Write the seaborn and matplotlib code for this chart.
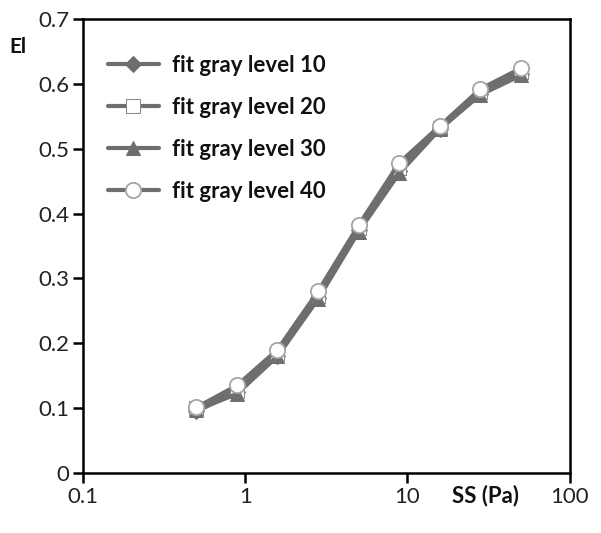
import numpy as np
import pandas as pd
import matplotlib
matplotlib.use('Agg')
import matplotlib.pyplot as plt
import seaborn as sns

# shear stress (Pa), log-spaced samples
ss = [0.5, 0.89, 1.58, 2.81, 5.0, 8.89, 15.8, 28.1, 50.0]

# elongation index for each gray level fit
ei_10 = [0.095, 0.125, 0.180, 0.270, 0.375, 0.465, 0.530, 0.585, 0.615]
ei_20 = [0.100, 0.127, 0.183, 0.273, 0.377, 0.470, 0.532, 0.588, 0.618]
ei_30 = [0.097, 0.122, 0.180, 0.268, 0.372, 0.462, 0.530, 0.583, 0.613]
ei_40 = [0.101, 0.135, 0.190, 0.280, 0.382, 0.478, 0.535, 0.592, 0.624]

labels = ['fit gray level 10', 'fit gray level 20', 'fit gray level 30', 'fit gray level 40']

sns.set_style('white')
plt.rcParams['font.family'] = ['Lato', 'DejaVu Sans']

fig = plt.figure(figsize=(6.01, 5.33), dpi=100)
ax = fig.add_axes([0.138, 0.1126, 0.810, 0.8518])

line_col = '#6e6e6e'
styles = [
    dict(marker='D', markersize=8, markerfacecolor=line_col, markeredgecolor=line_col),
    dict(marker='s', markersize=10, markerfacecolor='white', markeredgecolor='#8a8a8a'),
    dict(marker='^', markersize=10, markerfacecolor=line_col, markeredgecolor=line_col),
    dict(marker='o', markersize=11, markerfacecolor='white', markeredgecolor='#a5a5a5', markeredgewidth=1.3),
]

for ei, lab, st in zip([ei_10, ei_20, ei_30, ei_40], labels, styles):
    sns.lineplot(x=ss, y=ei, ax=ax, color=line_col, lw=3, label=lab, **st)

ax.set_xscale('log')
ax.set_xlim(0.1, 100)
ax.set_ylim(0, 0.7)
ax.set_xticks([0.1, 1, 10, 100])
ax.set_xticklabels(['0.1', '1', '10', '100'])
ax.set_yticks([0, 0.1, 0.2, 0.3, 0.4, 0.5, 0.6, 0.7])
ax.set_yticklabels(['0', '0.1', '0.2', '0.3', '0.4', '0.5', '0.6', '0.7'])
ax.minorticks_off()
ax.tick_params(axis='both', which='major', direction='out', length=7, width=1.8,
               labelsize=16, color='black', labelcolor='#222222', pad=3,
               bottom=True, left=True, top=False, right=False)

for sp in ax.spines.values():
    sp.set_color('black')
    sp.set_linewidth(1.8)

ax.set_xlabel('')
ax.set_ylabel('')
fig.text(0.03, 0.912, 'El', fontsize=15, fontweight='bold', color='#111111',
         ha='center', va='center')
fig.text(0.808, 0.071, 'SS (Pa)', fontsize=16, fontweight='bold', color='#111111',
         ha='center', va='center')

leg = ax.legend(loc='upper left', bbox_to_anchor=(0.01, 0.965), frameon=False,
                fontsize=16, handlelength=2.3, labelspacing=0.95, handletextpad=0.6)
for t in leg.get_texts():
    t.set_fontweight('bold')
    t.set_color('#111111')

fig.savefig('out.png', dpi=100)
